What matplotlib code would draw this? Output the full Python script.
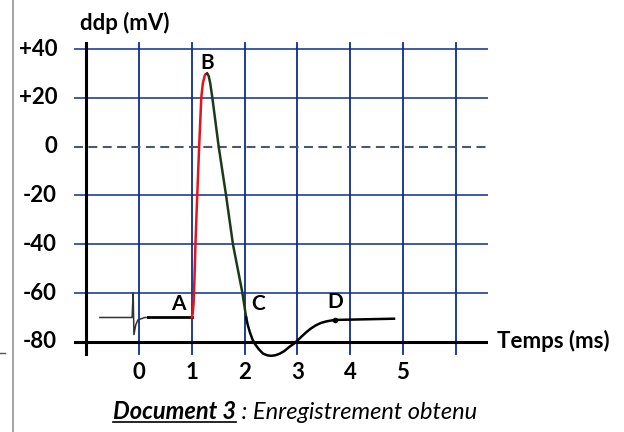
import matplotlib
matplotlib.use("Agg")
import matplotlib.pyplot as plt
from matplotlib.lines import Line2D

plt.rcParams['font.family'] = ['Lato', 'DejaVu Sans']

# --- data (ms, mV) read from the recording ---
# trace before stimulation, with the stimulus artefact
pre_t = [-0.74, -0.13, -0.11, -0.095, -0.06, -0.02, 0.11, 0.17]
pre_v = [-70, -70, -60, -77, -73, -71, -70, -70]

# resting potential up to A
rest_t = [0.17, 1.0]
rest_v = [-70, -70]

# depolarisation A -> B
depol_t = [1.00, 1.02, 1.035, 1.05, 1.07, 1.10, 1.14, 1.18, 1.21, 1.25, 1.29]
depol_v = [-70, -68, -64, -55, -40, -22, 0, 20, 26, 29.5, 30]

# repolarisation B -> C
repol_t = [1.29, 1.32, 1.35, 1.39, 1.45, 1.51, 1.65, 1.78, 1.96, 2.03]
repol_v = [30, 29, 26, 20, 10, 0, -20, -40, -60, -70]

# hyperpolarisation C -> D and return to rest
hyper_t = [2.03, 2.06, 2.10, 2.15, 2.20, 2.27, 2.35, 2.43, 2.50, 2.58, 2.66,
           2.75, 2.85, 2.93, 3.00, 3.08, 3.16, 3.25, 3.35, 3.45, 3.55, 3.65,
           3.72, 4.83]
hyper_v = [-70, -73, -76, -79, -81, -83, -84.8, -85.5, -85.7, -85.5, -84.9,
           -83.8, -82, -80.8, -79.5, -77.8, -76.2, -74.6, -73.2, -72.2, -71.6,
           -71.2, -71, -70.5]

point_names = ['A', 'B', 'C', 'D']
point_t = [0.74, 1.29, 2.25, 3.71]
point_v = [-64.5, 34.3, -64.5, -63.7]

y_ticks = [40, 20, 0, -20, -40, -60, -80]
y_labels = ['+40', '+20', '0', '-20', '-40', '-60', '-80']
x_ticks = [0, 1, 2, 3, 4, 5]

grid_x = [0, 1, 2, 3, 4, 5, 6]
grid_y = [40, 20, -20, -40, -60]

fs = 16

fig = plt.figure(figsize=(6.24, 4.32), dpi=100)
ax = fig.add_axes([74 / 624, 0.1634, 414 / 624, 0.7456])
ax.set_xlim(-1.23, 6.61)
ax.set_ylim(-88, 44)
ax.axis('off')

blue = '#0d2d8f'
# grid
for gy in grid_y:
    ax.plot([-1.23, 6.61], [gy, gy], color='#1f3f96', lw=1.2, zorder=1)
for gx in grid_x:
    ax.plot([gx, gx], [-85, 42.5], color=blue, lw=1.3, zorder=1)
ax.plot([-1.23, 6.61], [0, 0], color='#4b5873', lw=1.5,
        linestyle=(0, (4.3, 2.6)), zorder=1)

# axes
ax.plot([-1, -1], [-85, 42.5], color='black', lw=2.2, zorder=2)
ax.plot([-1.23, 6.61], [-80, -80], color='black', lw=2.2, zorder=2)

# curve
ax.plot(pre_t, pre_v, color='#333333', lw=1.1, zorder=3)
ax.plot(rest_t, rest_v, color='black', lw=2.0, zorder=3)
ax.plot(depol_t, depol_v, color='#e3141b', lw=1.8, zorder=4)
ax.plot(repol_t, repol_v, color='#1a3a1a', lw=1.8, zorder=4)
ax.plot(hyper_t, hyper_v, color='black', lw=1.8, zorder=4)
ax.plot([3.72], [-71], 'o', color='black', ms=3, zorder=5)

for name, t, v in zip(point_names, point_t, point_v):
    ax.text(t, v, name, ha='center', va='center', fontsize=fs - 1,
            fontweight='bold', zorder=6)

# tick labels
for v, lab in zip(y_ticks, y_labels):
    ax.text(-1.55, v, lab, ha='right', va='center', fontsize=fs,
            fontweight='bold', clip_on=False)
for t in x_ticks:
    ax.text(t, -92.5, str(t), ha='center', va='center', fontsize=fs,
            fontweight='bold', clip_on=False)

fig.text(80 / 624, 1 - 23 / 432, 'ddp (mV)', ha='left', va='center',
         fontsize=fs, fontweight='bold')
fig.text(497 / 624, 1 - 341 / 432, 'Temps (ms)', ha='left', va='center',
         fontsize=fs, fontweight='bold')

# caption with underlined part
fig.canvas.draw()
renderer = fig.canvas.get_renderer()
cap_y = 1 - 419 / 432
t1 = fig.text(113 / 624, cap_y, 'Document 3', ha='left', va='baseline',
              fontsize=fs + 1, fontweight='bold', style='italic')
bb = t1.get_window_extent(renderer)
x_end = bb.x1 / 624
fig.text(x_end, cap_y, ' : Enregistrement obtenu', ha='left', va='baseline',
         fontsize=fs + 1, style='italic')
fig.add_artist(Line2D([113 / 624, x_end], [cap_y - 3 / 432, cap_y - 3 / 432],
                      color='black', lw=1.2))

# page border on the left
fig.add_artist(Line2D([12.5 / 624, 12.5 / 624], [0, 1], color='#a8a8a8', lw=1.5))
fig.add_artist(Line2D([0, 5 / 624], [1 - 353 / 432, 1 - 353 / 432],
                      color='#555555', lw=1.0))

fig.savefig('out.png', dpi=100)
